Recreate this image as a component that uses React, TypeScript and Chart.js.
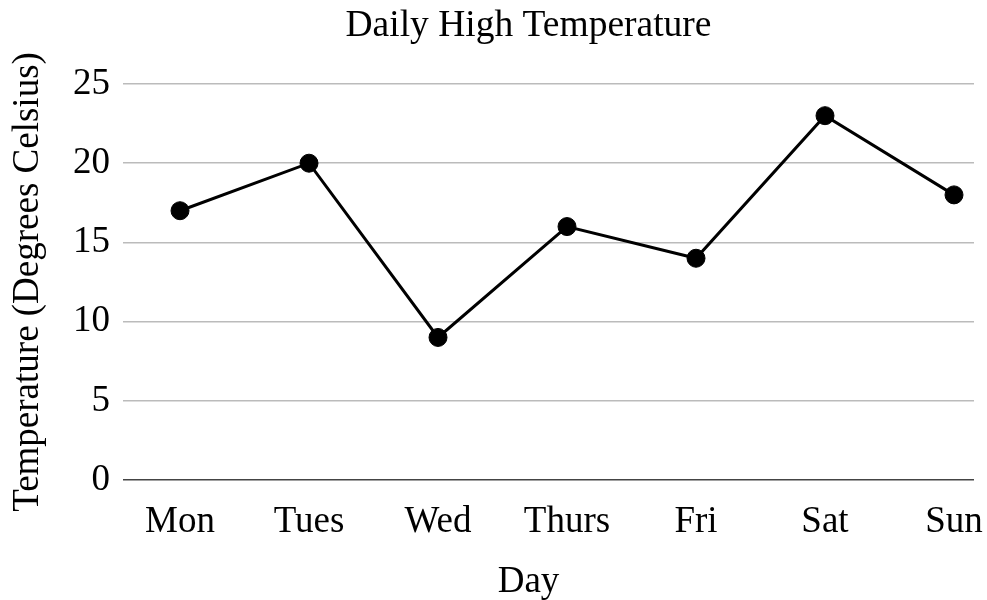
import React, { useEffect, useRef } from "react";
import { Chart, registerables } from "chart.js";

Chart.register(...registerables);

const days: string[] = ["Mon", "Tues", "Wed", "Thurs", "Fri", "Sat", "Sun"];
const temps: number[] = [17, 20, 9, 16, 14, 23, 18];
const yTicks: number[] = [0, 5, 10, 15, 20, 25];
const titleText = "Daily High Temperature";
const xTitleText = "Day";
const yTitleText = "Temperature (Degrees Celsius)";

const FONT = '"Liberation Serif", "Times New Roman", serif';

const textPlugin = {
  id: "customTexts",
  afterDraw(chart: any) {
    const ctx = chart.ctx;
    const area = chart.chartArea;
    const cx = (area.left + area.right) / 2 - 20;
    ctx.save();
    ctx.fillStyle = "#000";
    ctx.textAlign = "center";
    ctx.textBaseline = "alphabetic";
    ctx.font = `37.5px ${FONT}`;
    ctx.fillText(titleText, cx, 36);
    ctx.font = `37px ${FONT}`;
    ctx.fillText(xTitleText, cx, 592);
    ctx.restore();
  },
};

export default function App() {
  const canvasRef = useRef<HTMLCanvasElement | null>(null);

  useEffect(() => {
    if (!canvasRef.current) return;
    const chart = new Chart(canvasRef.current, {
      type: "line",
      data: {
        datasets: [
          {
            label: "Temperature",
            data: temps.map((v, i) => ({ x: i, y: v })),
            borderColor: "#000",
            backgroundColor: "#000",
            borderWidth: 3,
            pointRadius: 9,
            pointBackgroundColor: "#000",
            pointBorderColor: "#000",
            pointBorderWidth: 1,
            tension: 0,
          },
        ],
      },
      plugins: [textPlugin],
      options: {
        animation: false,
        responsive: false,
        layout: { padding: { top: 84, right: 13, left: 0, bottom: 0 } },
        plugins: {
          legend: { display: false },
          title: { display: false },
          tooltip: { enabled: false },
        },
        scales: {
          x: {
            type: "linear",
            min: -0.442,
            max: 6.155,
            grid: { display: false },
            border: { display: false },
            afterBuildTicks: (scale: any) => {
              scale.ticks = days.map((_, i) => ({ value: i }));
            },
            afterFit: (scale: any) => {
              scale.height = 120;
              scale.paddingLeft = 0;
              scale.paddingRight = 0;
            },
            ticks: {
              autoSkip: false,
              maxRotation: 0,
              padding: 12,
              color: "#000",
              font: { family: FONT, size: 37 },
              callback: (v: any) => days[v as number] ?? "",
            },
          },
          y: {
            min: 0,
            max: 25,
            afterBuildTicks: (scale: any) => {
              scale.ticks = yTicks.map((v) => ({ value: v }));
            },
            afterFit: (scale: any) => {
              scale.width = 123;
              scale.paddingTop = 0;
              scale.paddingBottom = 0;
            },
            border: { display: false },
            grid: {
              drawTicks: false,
              lineWidth: 1.5,
              color: (c: any) => (c.tick && c.tick.value === 0 ? "#444" : "#bbb"),
            },
            ticks: {
              padding: 13,
              color: "#000",
              font: { family: FONT, size: 37 },
            },
            title: {
              display: true,
              text: yTitleText,
              color: "#000",
              font: { family: FONT, size: 37 },
              padding: { top: 6, bottom: 0 },
            },
          },
        },
      },
    } as any);
    return () => chart.destroy();
  }, []);

  return (
    <div style={{ position: "absolute", left: 0, top: 0, width: 987, height: 600 }}>
      <canvas ref={canvasRef} width={987} height={600} style={{ width: 987, height: 600 }} />
    </div>
  );
}
